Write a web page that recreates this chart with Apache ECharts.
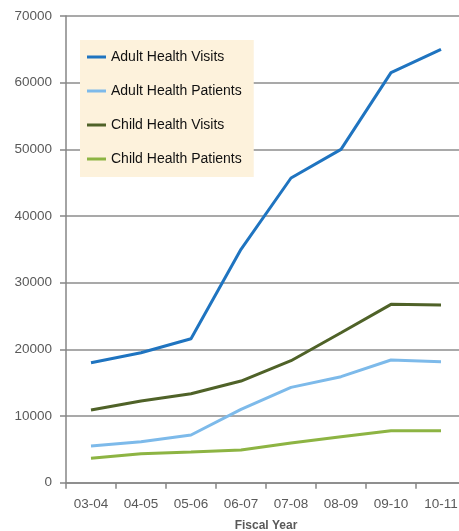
<!DOCTYPE html>
<html>
<head>
<meta charset="utf-8">
<script src="https://cdn.jsdelivr.net/npm/echarts@6/dist/echarts.min.js"></script>
<style>html,body{margin:0;padding:0;background:#fff;}#c{width:459px;height:531px;}</style>
</head>
<body>
<div id="c"></div>
<script>
var categories = ['03-04','04-05','05-06','06-07','07-08','08-09','09-10','10-11'];
var adultVisits   = [18000, 19500, 21600, 35000, 45700, 50000, 61500, 65000];
var adultPatients = [5500, 6150, 7150, 11000, 14300, 15900, 18400, 18150];
var childVisits   = [10900, 12250, 13350, 15250, 18300, 22500, 26750, 26650];
var childPatients = [3650, 4350, 4600, 4900, 5950, 6900, 7800, 7800];
var seriesNames = ['Adult Health Visits','Adult Health Patients','Child Health Visits','Child Health Patients'];
var colors = ['#1f74c0','#7dbaea','#4f6228','#8db443'];
var yTicks = [0,10000,20000,30000,40000,50000,60000,70000];

var chart = echarts.init(document.getElementById('c'));
var font = 'Liberation Sans, Arial, sans-serif';
var dataSets = [adultVisits, adultPatients, childVisits, childPatients];
chart.setOption({
  animation: false,
  color: colors,
  grid: {left: 66, right: -7, top: 16, bottom: 48.3, containLabel: false, outerBoundsMode: 'none'},
  legend: {
    left: 80, top: 40, orient: 'vertical',
    backgroundColor: '#fdf2dc',
    padding: [10, 12, 11, 7],
    icon: 'rect', itemWidth: 19, itemHeight: 3, itemGap: 20,
    textStyle: {fontFamily: font, fontSize: 14, color: '#111', lineHeight: 14},
    data: seriesNames
  },
  xAxis: {
    type: 'category', data: categories, boundaryGap: true,
    name: 'Fiscal Year', nameLocation: 'middle', nameGap: 37,
    nameTextStyle: {fontFamily: font, fontSize: 12, fontWeight: 'bold', color: '#595959'},
    axisLine: {lineStyle: {color: '#868686', width: 1.5}},
    axisTick: {show: true, length: 6, lineStyle: {color: '#868686', width: 1.5}},
    axisLabel: {fontFamily: font, fontSize: 13.5, color: '#595959', margin: 15, interval: 0}
  },
  yAxis: {
    type: 'value', min: yTicks[0], max: yTicks[yTicks.length-1], interval: 10000,
    axisLine: {show: true, lineStyle: {color: '#868686', width: 1.5}},
    axisTick: {show: true, length: 6, lineStyle: {color: '#868686', width: 1.5}},
    axisLabel: {fontFamily: font, fontSize: 13.5, color: '#595959', margin: 14,
      formatter: function(v){ return String(v); }},
    splitLine: {lineStyle: {color: '#8c8c8c', width: 1.5}}
  },
  series: seriesNames.map(function(n, i){
    return {name: n, type: 'line', data: dataSets[i], showSymbol: false, symbol: 'none',
      lineStyle: {width: 3, color: colors[i]}, itemStyle: {color: colors[i]}};
  })
});
</script>
</body>
</html>
